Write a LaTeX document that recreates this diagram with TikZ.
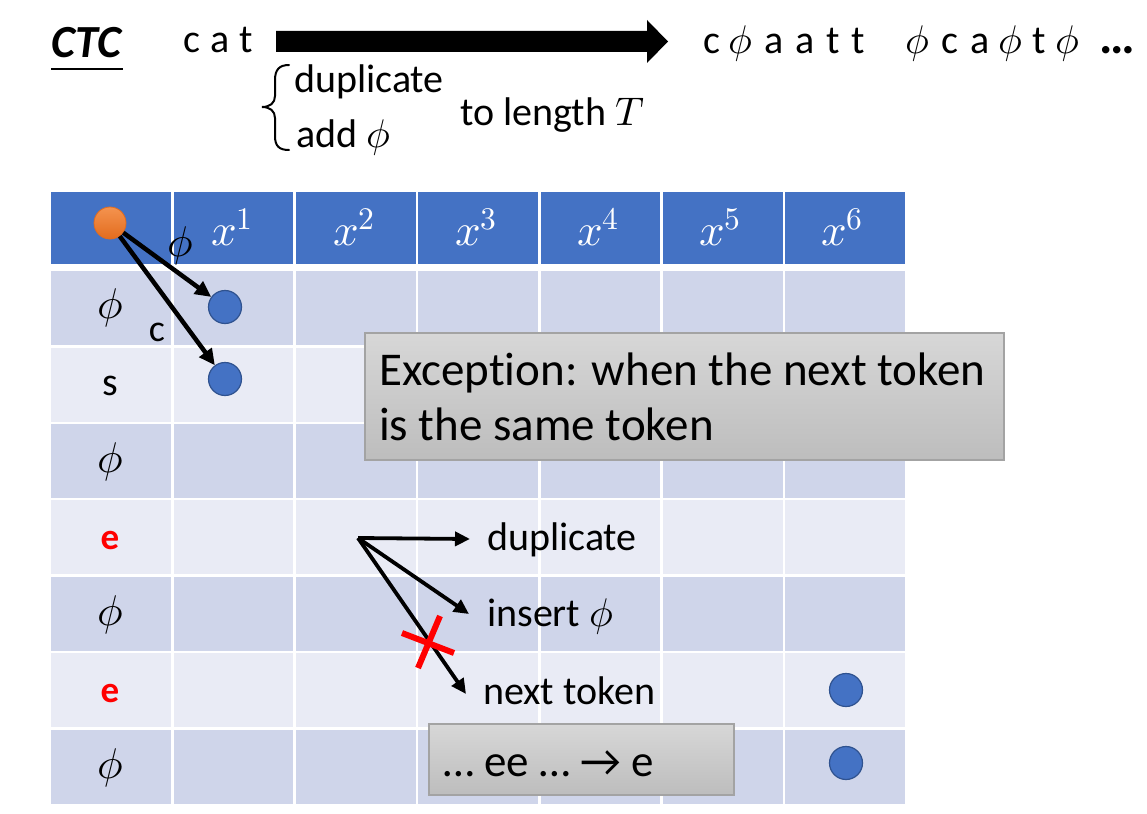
\documentclass[tikz,border=0pt]{standalone}
\usepackage{fontspec}
\usepackage{unicode-math}
\setmainfont{Carlito}[Ligatures=NoCommon]
\setmathfont{Latin Modern Math}
\usetikzlibrary{arrows.meta}
\definecolor{hdr}{HTML}{4472C4}
\definecolor{rowA}{HTML}{CFD5EA}
\definecolor{rowB}{HTML}{E9EBF5}
\definecolor{circB}{HTML}{2F528F}
\definecolor{orng}{HTML}{ED7D31}
\definecolor{orngT}{HTML}{F4934F}
\definecolor{orngB}{HTML}{E36C1E}
\definecolor{boxtop}{HTML}{D7D7D7}
\definecolor{boxbot}{HTML}{BDBDBD}
\definecolor{boxline}{HTML}{A3A3A3}
\definecolor{xred}{HTML}{FF0000}
\begin{document}
\begin{tikzpicture}[x=1pt,y=-1pt,
  txt/.style={inner sep=0pt, font=\fontsize{40}{48}\selectfont},
  bigtxt/.style={inner sep=0pt, font=\fontsize{47}{56}\selectfont},
  hdrtxt/.style={inner sep=0pt, text=white, font=\fontsize{45}{52}\selectfont},
  rowtxt/.style={inner sep=0pt, font=\fontsize{43}{50}\selectfont},
  etxt/.style={inner sep=0pt, text=xred, font=\fontsize{37}{42}\selectfont\bfseries},
  bluedot/.style={circle, fill=hdr, draw=circB, line width=1.2pt, minimum size=33pt, inner sep=0pt},
  orangedot/.style={circle, top color=orngT, bottom color=orngB, draw=orngB, line width=0.8pt, minimum size=32pt, inner sep=0pt},
  graybox/.style={top color=boxtop, bottom color=boxbot, draw=boxline, line width=1.2pt},
  arr/.style={line width=4.5pt, -{Triangle[length=16pt,width=15pt]}},
  arrthin/.style={line width=3.8pt, -{Triangle[length=15pt,width=14pt]}}
]
\useasboundingbox (0,0) rectangle (1147,813);
\fill[white] (0,0) rectangle (1147,813);

% ---- top line ----
\node[bigtxt, anchor=base west, font=\fontsize{46}{56}\selectfont\bfseries\itshape] (ctc) at (51,58) {CTC};
\draw[line width=1.5pt] (51,69) -- (123,69);
\node[txt, anchor=base west] (cat) at (183,53) {c\hspace{0.25em}a\hspace{0.25em}t};
\fill[black] (276,31) -- (647,31) -- (647,20) -- (668,41.5) -- (647,63) -- (647,52) -- (276,52) -- cycle;
\coordinate (bigarrow) at (668,41.5);
\node[txt, anchor=base west] (seq1) at (703,54) {c\hspace{0.22em}$\phi$\hspace{0.28em}a\hspace{0.3em}a\hspace{0.3em}t\hspace{0.3em}t};
\node[txt, anchor=base west] (seq2) at (905,54) {$\phi$\hspace{0.3em}c\hspace{0.3em}a\hspace{0.22em}$\phi$\hspace{0.25em}t\hspace{0.25em}$\phi$\hspace{0.5em}{\fontsize{50}{56}\selectfont\bfseries\char"2026}};

% brace
\draw[line width=2pt, line cap=round] (289,65) .. controls (279,65) and (275,70) .. (275,80)
   -- (275,96) .. controls (275,103) and (270,107) .. (262,107)
   .. controls (270,107) and (275,111) .. (275,118)
   -- (275,136) .. controls (275,146) and (279,150) .. (289,150);
\node[txt, anchor=base west] (dup1) at (294,93) {duplicate};
\node[txt, anchor=base west] (add1) at (296,148) {add $\phi$};
\node[txt, anchor=base west] (tolen) at (460,126) {to length $T$};

% ---- table ----
\foreach \i in {0,...,6} {
  \fill[hdr] ({50+122.3*\i+1.3},192) rectangle ({50+122.3*(\i+1)-1.3},264);
}
\foreach \r/\col in {0/rowA,1/rowB,2/rowA,3/rowB,4/rowA,5/rowB,6/rowA} {
  \foreach \i in {0,...,6} {
    \fill[\col] ({50+122.3*\i+1.3},{270+76.4*\r+1.2}) rectangle ({50+122.3*(\i+1)-1.3},{270+76.4*(\r+1)-1.2});
  }
}
\node[hdrtxt] (h1) at (232,227) {$x^1$};
\node[hdrtxt] (h2) at (354,227) {$x^2$};
\node[hdrtxt] (h3) at (476,227) {$x^3$};
\node[hdrtxt] (h4) at (598,227) {$x^4$};
\node[hdrtxt] (h5) at (720,227) {$x^5$};
\node[hdrtxt] (h6) at (842,227) {$x^6$};

\node[rowtxt] (r1) at (110,308) {$\phi$};
\node[txt, anchor=base] (r2) at (110,395) {s};
\node[rowtxt] (r3) at (110,462) {$\phi$};
\node[etxt, anchor=base] (r4) at (110,549) {e};
\node[rowtxt] (r5) at (110,615) {$\phi$};
\node[etxt, anchor=base] (r6) at (110,702) {e};
\node[rowtxt] (r7) at (110,768) {$\phi$};

% dots
\node[orangedot] (o) at (110,223) {};
\node[bluedot] (b1) at (225,307) {};
\node[bluedot] (b2) at (225,379) {};
\node[bluedot] (b3) at (846,690) {};
\node[bluedot] (b4) at (846,763) {};

\draw[arr] (o) -- (b1);
\draw[arr] (o) -- (b2);
\node[rowtxt] (lphi) at (180,246) {$\phi$};
\node[txt, font=\fontsize{38}{44}\selectfont] (lc) at (157,332) {c};

% exception box
\draw[graybox] (365,333) rectangle (1004,460);
\node[bigtxt, anchor=base west] (exc1) at (379,385) {Exception: when the next token};
\node[bigtxt, anchor=base west] (exc2) at (379,440) {is the same token};

% branching arrows
\coordinate (src) at (358,538);
\node[txt, anchor=base west] (tdup) at (487,550) {duplicate};
\node[txt, anchor=base west] (tins) at (487,626) {insert $\phi$};
\node[txt, anchor=base west] (tnext) at (483,704) {next token};
\coordinate (edup) at (470,539);
\coordinate (eins) at (469,614);
\coordinate (enext) at (466,694);
\draw[arrthin] (src) -- (edup);
\draw[arrthin] (src) -- (eins);
\draw[arrthin] (src) -- (enext);
\draw[xred, line width=6pt] (402,633) -- (454,653);
\draw[xred, line width=6pt] (418,668) -- (440,616);

% bottom box
\draw[graybox] (429,724) rectangle (734,795);
\node[txt, anchor=base west, font=\fontsize{45}{52}\selectfont] (eeq) at (443,776) {\char"2026\ ee \char"2026\ \char"2192\ e};
\end{tikzpicture}
\end{document}
